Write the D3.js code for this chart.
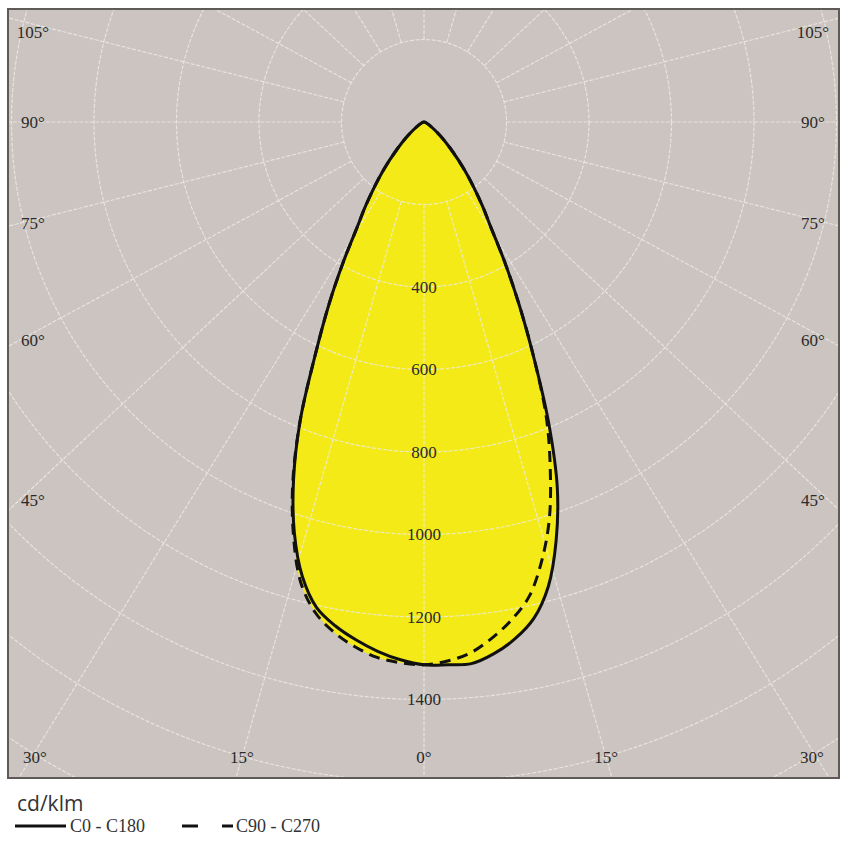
<!DOCTYPE html>
<html>
<head>
<meta charset="utf-8">
<script src="https://cdn.jsdelivr.net/npm/d3@7"></script>
<style>
  body { margin: 0; background: #fff; }
</style>
</head>
<body>
<script>
var Width = 847;      // of SVG
var Height = 843;     // of SVG
var Frame = {x: 8, y: 9, w: 831, h: 769};   // grey plot box
var Cx = 424, Cy = 122;                     // pole of the diagram (90 deg point)
var PxPer1000 = 412.5;                      // radius of the 1000 cd circle
var Stretch = 1.07;                         // grid rays are a bit wider than the circles
var SideLabelStretch = 1.035;
var Serif = "'Liberation Serif', 'DejaVu Serif', serif";

// gamma angles (deg, 0 = straight down) and intensities in cd/klm
var gamma = [0, 2.5, 5, 7.5, 10, 12.5, 15, 17.5, 20, 22.5, 25, 27.5, 30, 32.5, 35, 40, 45, 50, 60, 70, 80, 90];
var c0    = [1316, 1317, 1318, 1300, 1272, 1232, 1165, 1065, 945, 790, 630, 500, 390, 300, 245, 155, 90, 50, 15, 5, 2, 0];
var c180  = [1316, 1305, 1288, 1266, 1240, 1205, 1140, 1045, 925, 785, 625, 500, 390, 300, 245, 155, 90, 50, 15, 5, 2, 0];
var c90   = [1316, 1308, 1292, 1262, 1225, 1178, 1102, 1010, 895, 775, 630, 500, 390, 300, 245, 155, 90, 50, 15, 5, 2, 0];
var c270  = [1316, 1312, 1303, 1283, 1256, 1218, 1155, 1052, 930, 785, 625, 500, 390, 300, 245, 155, 90, 50, 15, 5, 2, 0];

var ringValues = [200, 400, 600, 800, 1000, 1200, 1400, 1600, 1800];
var ringLabels = [400, 600, 800, 1000, 1200, 1400];
var sideAngles = [105, 90, 75, 60, 45];
var bottomAngles = [-30, -15, 0, 15, 30];

var rScale = d3.scaleLinear().domain([0, 1000]).range([0, PxPer1000]);

function main () {
  var svg = makeSVG();

  svg.append("clipPath").attr("id", "box")
    .append("rect")
    .attr("x", Frame.x).attr("y", Frame.y)
    .attr("width", Frame.w).attr("height", Frame.h);

  svg.append("rect")
    .attr("x", Frame.x).attr("y", Frame.y)
    .attr("width", Frame.w).attr("height", Frame.h)
    .attr("fill", "#cbc4c0");

  var plot = svg.append("g")
    .attr("clip-path", "url(#box)")
    .append("g")
    .attr("transform", "translate(" + Cx + "," + Cy + ")");

  var solid = halves(c180, c0);
  var dashed = halves(c270, c90);

  var line = d3.lineRadial()
    .angle(function(d) { return d.a; })
    .radius(function(d) { return rScale(d.v); })
    .curve(d3.curveCatmullRom.alpha(0.5));

  // yellow body
  [solid, dashed].forEach(function(pts) {
    plot.append("path")
      .attr("d", line(pts) + "Z")
      .attr("fill", "#f4ea18");
  });

  makeGrid(plot);

  plot.append("path")
    .attr("d", line(solid))
    .attr("fill", "none")
    .attr("stroke", "#111")
    .attr("stroke-width", 3)
    .attr("stroke-linejoin", "round");

  plot.append("path")
    .attr("d", line(dashed))
    .attr("fill", "none")
    .attr("stroke", "#111")
    .attr("stroke-width", 3)
    .attr("stroke-dasharray", "11 7");

  // ring values down the 0 deg axis
  plot.selectAll("text.ring")
    .data(ringLabels)
    .enter()
    .append("text")
    .attr("class", "ring")
    .attr("x", 0)
    .attr("y", function(d) { return rScale(d); })
    .attr("dy", "0.35em")
    .attr("text-anchor", "middle")
    .style("font-family", Serif)
    .attr("font-size", 17)
    .attr("fill", "#2a2a2a")
    .text(function(d) { return d; });

  makeAngleLabels(svg);

  svg.append("rect")
    .attr("x", Frame.x).attr("y", Frame.y)
    .attr("width", Frame.w).attr("height", Frame.h)
    .attr("fill", "none")
    .attr("stroke", "#5e5a58")
    .attr("stroke-width", 2);

  makeLegend(svg);
}

// left half goes from 90 down to 0, right half from 0 back up to 90
function halves (left, right) {
  var pts = [];
  for (var i = gamma.length - 1; i >= 0; i--) {
    pts.push({a: Math.PI + gamma[i] * Math.PI / 180, v: left[i]});
  }
  for (var j = 1; j < gamma.length; j++) {
    pts.push({a: Math.PI - gamma[j] * Math.PI / 180, v: right[j]});
  }
  return pts;
}

function rayDir (deg, k) {
  var g = deg * Math.PI / 180;
  var dx = (k || Stretch) * Math.sin(g), dy = Math.cos(g);
  var n = Math.sqrt(dx * dx + dy * dy);
  return [dx / n, dy / n];
}

function makeGrid (plot) {
  var gridStyle = function(sel) {
    sel.attr("fill", "none")
      .attr("stroke", "#eeebe6")
      .attr("stroke-opacity", 0.8)
      .attr("stroke-width", 1.2)
      .attr("stroke-dasharray", "4 1.5");
  };

  plot.selectAll("circle.ring")
    .data(ringValues)
    .enter()
    .append("circle")
    .attr("class", "ring")
    .attr("r", function(d) { return rScale(d); })
    .call(gridStyle);

  var r0 = rScale(ringValues[0]);
  plot.selectAll("line.ray")
    .data(d3.range(0, 360, 15))
    .enter()
    .append("line")
    .attr("class", "ray")
    .attr("x1", function(d) { return rayDir(d)[0] * r0; })
    .attr("y1", function(d) { return rayDir(d)[1] * r0; })
    .attr("x2", function(d) { return rayDir(d)[0] * 1500; })
    .attr("y2", function(d) { return rayDir(d)[1] * 1500; })
    .call(gridStyle);
}

function makeAngleLabels (svg) {
  var labels = [];
  var sideX = 33;
  sideAngles.forEach(function(a) {
    var d = rayDir(a, SideLabelStretch);
    var y = Cy + (Cx - sideX) / d[0] * d[1];
    y = Math.max(y, 32);
    labels.push({x: sideX, y: y, t: a + "°"});
    labels.push({x: Width - sideX - 1, y: y, t: a + "°"});
  });
  var botY = 757;
  bottomAngles.forEach(function(a) {
    var d = rayDir(Math.abs(a));
    var x = Cx + Math.sign(a) * (botY - Cy) / d[1] * d[0];
    x = Math.max(35, Math.min(x, Width - 35));
    labels.push({x: x, y: botY, t: Math.abs(a) + "°"});
  });

  svg.selectAll("text.ang")
    .data(labels)
    .enter()
    .append("text")
    .attr("class", "ang")
    .attr("x", function(d) { return d.x; })
    .attr("y", function(d) { return d.y; })
    .attr("dy", "0.35em")
    .attr("text-anchor", "middle")
    .style("font-family", Serif)
    .attr("font-size", 17)
    .attr("fill", "#2a2a2a")
    .text(function(d) { return d.t; });
}

function makeLegend (svg) {
  svg.append("text")
    .attr("x", 17).attr("y", 811)
    .style("font-family", "'Open Sans', 'Noto Sans', sans-serif")
    .attr("font-size", 21)
    .attr("fill", "#333")
    .text("cd/klm");

  svg.append("line")
    .attr("x1", 15).attr("x2", 66).attr("y1", 826).attr("y2", 826)
    .attr("stroke", "#111").attr("stroke-width", 3);
  svg.append("text")
    .attr("x", 70).attr("y", 832)
    .style("font-family", Serif)
    .attr("font-size", 18).attr("fill", "#333")
    .text("C0 - C180");

  svg.append("line")
    .attr("x1", 182).attr("x2", 233).attr("y1", 826).attr("y2", 826)
    .attr("stroke", "#111").attr("stroke-width", 3)
    .attr("stroke-dasharray", "16 24");
  svg.append("text")
    .attr("x", 236).attr("y", 832)
    .style("font-family", Serif)
    .attr("font-size", 18).attr("fill", "#333")
    .text("C90 - C270");
}

function makeSVG () {
  var svg = d3.select("body")
    .append("svg")
    .attr("width", Width)
    .attr("height", Height);
  return svg;
}

main();
</script>
</body>
</html>
